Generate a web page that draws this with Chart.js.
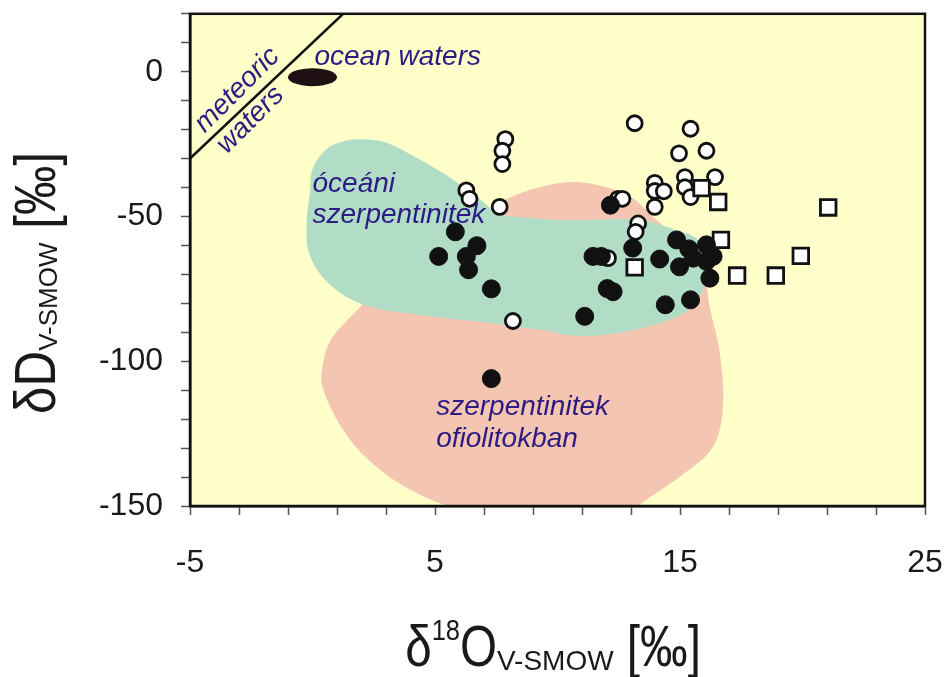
<!DOCTYPE html>
<html><head><meta charset="utf-8">
<script src="https://cdn.jsdelivr.net/npm/chart.js@4.4.1/dist/chart.umd.min.js"></script>
<style>html,body{margin:0;padding:0;background:#fff}#wrap{width:944px;height:677px;position:relative}</style>
</head><body><div id="wrap"><canvas id="c"></canvas></div>
<script>
// ---- axis ticks ----
const xTickValues = [-5,-3,-1,1,3,5,7,9,11,13,15,17,19,21,23,25];
const xTickLabels = [-5,5,15,25];
const yTickValues = [-150,-140,-130,-120,-110,-100,-90,-80,-70,-60,-50,-40,-30,-20,-10,0,10,20];
const yTickLabels = [0,-50,-100,-150];

// ---- data (δ18O, δD) ----
const filledCircles = [[12.16,-46.1],[5.83,-55.3],[6.71,-60.1],[5.15,-63.8],[6.28,-63.8],[6.37,-68.4],[7.3,-75.0],
  [11.11,-84.5],[11.45,-63.8],[11.79,-63.8],[13.07,-60.9],[14.17,-64.7],[12.03,-74.9],[12.27,-76.0],[14.4,-80.5],
  [15.43,-78.8],[14.86,-58.1],[15.36,-61.2],[14.98,-67.4],[15.54,-64.4],[16.08,-59.8],[16.35,-63.8],[16.08,-65.5],
  [16.22,-71.3],[7.3,-106]];
const openCircles = [[13.15,-17.8],[15.43,-19.7],[14.96,-28.2],[16.08,-27.3],[15.2,-36.4],[16.43,-36.4],[13.97,-38.4],
  [13.97,-41.2],[14.34,-41.3],[13.97,-46.7],[15.2,-39.9],[15.43,-43.3],[7.87,-23.3],[7.75,-27.3],[7.75,-31.9],
  [6.28,-41.0],[6.41,-43.9],[7.64,-46.7],[12.47,-43.9],[12.65,-43.9],[13.29,-52.4],[13.19,-55.3],[12.06,-64.4],[8.18,-86.1]];
const openSquares = [[15.88,-40.2],[16.56,-45.0],[21.05,-46.9],[16.67,-58.1],[13.15,-67.6],[17.33,-70.4],[18.91,-70.4],[19.93,-63.6]];
const meteoricLine = [[-5,-30],[1.25,20]];
const oceanWaters = {x:0.0, y:-1.9, dx:1.0, dy:3.1};
const oceanicSerpOutline = [[16.1,-71.4],[15.93,-75.8],[15.28,-82.7],[14.05,-87.1],[12.26,-90.5],[10.62,-91.2],[9.56,-89.5],
  [7.52,-87.1],[4.08,-83.7],[2.04,-80.3],[0.69,-73.4],[-0.12,-63.2],[-0.24,-51.8],[-0.1,-41.6],[0.0,-33.7],[0.57,-26.8],
  [1.39,-23.8],[2.2,-23.4],[3.02,-24.5],[4.08,-28.9],[5.47,-35.8],[6.82,-44.0],[7.64,-49.1],[9.27,-50.8],[10.62,-51.2],
  [13.36,-51.2],[14.71,-54.3],[15.69,-57.7],[16.01,-63.8],[16.1,-71.4]];
const ophioliteSerpOutline = [[3.55,-62.1],[6.82,-50.1],[7.93,-44.0],[9.27,-39.9],[10.9,-38.2],[12.83,-42.6],[14.05,-51.2],
  [15.82,-65.5],[16.22,-81.6],[16.63,-97.4],[16.75,-115.9],[16.34,-129.6],[14.99,-139.9],[13.36,-149.5],[12.3,-158],
  [6.2,-158],[5.5,-150.5],[4.6,-147.0],[2.9,-138.5],[1.45,-126.2],[0.41,-109],[0.45,-99.8],[0.75,-92.5],[1.39,-86.1],
  [2.04,-80.3],[3.55,-62.1]];
const annotations = [
  {text:'meteoric', x:-2.85, y:-8.2, rot:-45, size:28},
  {text:'waters', x:-2.31, y:-18.6, rot:-45, size:28},
  {text:'ocean waters', x:0.08, y:2.4, rot:0, size:28, left:true},
  {text:'óceáni', x:0.0, y:-41.6, rot:0, size:28, left:true},
  {text:'szerpentinitek', x:0.0, y:-52.4, rot:0, size:28, left:true},
  {text:'szerpentinitek', x:5.05, y:-118.6, rot:0, size:28, left:true},
  {text:'ofiolitokban', x:5.05, y:-129.5, rot:0, size:28, left:true}
];

const FONT = "'Liberation Sans', Arial, sans-serif";
const toXY = a => a.map(p => ({x:p[0], y:p[1]}));

const backgroundPlugin = {
  id:'bg',
  beforeDraw(chart){
    const {ctx, chartArea:a} = chart;
    ctx.save();
    ctx.fillStyle = '#ffffff';
    ctx.fillRect(0,0,chart.width,chart.height);
    ctx.fillStyle = '#ffffc9';
    ctx.fillRect(a.left,a.top,a.right-a.left,a.bottom-a.top);
    ctx.restore();
  }
};

const decorPlugin = {
  id:'decor',
  afterDatasetsDraw(chart){
    const {ctx, chartArea:a, scales:{x, y}} = chart;
    ctx.save();
    const cx = x.getPixelForValue(oceanWaters.x), cy = y.getPixelForValue(oceanWaters.y);
    const rx = Math.abs(x.getPixelForValue(oceanWaters.x + oceanWaters.dx) - cx);
    const ry = Math.abs(y.getPixelForValue(oceanWaters.y + oceanWaters.dy) - cy);
    ctx.fillStyle = '#1f1113';
    ctx.beginPath(); ctx.ellipse(cx, cy, rx, ry, 0, 0, Math.PI*2); ctx.fill();
    ctx.fillStyle = '#2d1b84';
    annotations.forEach(an => {
      ctx.save();
      ctx.translate(x.getPixelForValue(an.x), y.getPixelForValue(an.y));
      ctx.rotate(an.rot*Math.PI/180);
      ctx.font = 'italic ' + an.size + 'px ' + FONT;
      ctx.textAlign = an.left ? 'left' : 'center';
      ctx.textBaseline = 'alphabetic';
      ctx.fillText(an.text, 0, 0);
      ctx.restore();
    });
    ctx.strokeStyle = '#111';
    ctx.lineWidth = 2.5;
    ctx.strokeRect(a.left, a.top, a.right-a.left, a.bottom-a.top);
    ctx.restore();
  },
  afterDraw(chart){
    const ctx = chart.ctx;
    function runs(list, cx, cy){
      let total = 0;
      list.forEach(r => { ctx.font = r.s + 'px ' + FONT; r.w = ctx.measureText(r.t).width * r.k; total += r.w; });
      let px = cx - total/2;
      list.forEach(r => {
        ctx.save();
        ctx.font = r.s + 'px ' + FONT;
        ctx.translate(px, cy + (r.dy||0));
        ctx.scale(r.k, 1);
        ctx.fillText(r.t, 0, 0);
        ctx.restore();
        px += r.w;
      });
    }
    ctx.save();
    ctx.fillStyle = '#1a1a1a';
    ctx.textBaseline = 'alphabetic';
    ctx.textAlign = 'left';
    runs([{t:'δ',s:58,k:0.82},{t:'18',s:30,k:0.85,dy:-26},{t:'O',s:58,k:0.82},{t:'V-SMOW',s:28,k:1.0,dy:4},{t:' [‰]',s:58,k:0.82}], 553, 666);
    ctx.save();
    ctx.translate(55, 283);
    ctx.rotate(-Math.PI/2);
    runs([{t:'δD',s:58,k:0.85},{t:'V-SMOW',s:26,k:1.0,dy:2},{t:' [‰]',s:58,k:0.85}], 0, 0);
    ctx.restore();
    ctx.restore();
  }
};

new Chart(document.getElementById('c'), {
  type:'scatter',
  data:{datasets:[
    {label:'filled', data:toXY(filledCircles), pointRadius:9, pointBackgroundColor:'#111', pointBorderColor:'#111', pointBorderWidth:1},
    {label:'squares', data:toXY(openSquares), pointStyle:'rect', pointRadius:11, pointBackgroundColor:'#fff', pointBorderColor:'#111', pointBorderWidth:2.8},
    {label:'open', data:toXY(openCircles), pointRadius:7.5, pointBackgroundColor:'#fff', pointBorderColor:'#111', pointBorderWidth:2.8},
    {label:'meteoric', data:toXY(meteoricLine), showLine:true, borderColor:'#111', borderWidth:2.5, pointRadius:0, tension:0},
    {label:'oceanic', data:toXY(oceanicSerpOutline), showLine:true, fill:'shape', backgroundColor:'#b1dcc6', borderWidth:0, borderColor:'rgba(0,0,0,0)', pointRadius:0, tension:0.35, clip:0},
    {label:'ophiolite', data:toXY(ophioliteSerpOutline), showLine:true, fill:'shape', backgroundColor:'#f4c5b1', borderWidth:0, borderColor:'rgba(0,0,0,0)', pointRadius:0, tension:0.35, clip:0}
  ]},
  options:{
    responsive:true, maintainAspectRatio:false, animation:false, events:[],
    layout:{padding:{top:11, right:19, left:0, bottom:0}},
    plugins:{legend:{display:false}, tooltip:{enabled:false}},
    scales:{
      x:{type:'linear', min:-5, max:25,
        afterBuildTicks: s => { s.ticks = xTickValues.map(v => ({value:v})); },
        afterFit: s => { s.height = 171; s.paddingLeft = 0; s.paddingRight = 0; s.paddingTop = 0; s.paddingBottom = 0; },
        ticks:{autoSkip:false, maxRotation:0, padding:29, color:'#1a1a1a', font:{family:FONT, size:32},
          callback: v => xTickLabels.includes(v) ? String(v) : ''},
        grid:{drawOnChartArea:false, drawTicks:true, tickLength:9, tickColor:'#555', tickWidth:1.5},
        border:{display:true, color:'#111', width:2.5}
      },
      y:{type:'linear', min:-150, max:20,
        afterBuildTicks: s => { s.ticks = yTickValues.map(v => ({value:v})); },
        afterFit: s => { s.width = 190; s.paddingLeft = 0; s.paddingRight = 0; s.paddingTop = 0; s.paddingBottom = 0; },
        ticks:{autoSkip:false, padding:18, color:'#1a1a1a', font:{family:FONT, size:32},
          callback: v => yTickLabels.includes(v) ? String(v) : ''},
        grid:{drawOnChartArea:false, drawTicks:true, tickLength:9, tickColor:'#555', tickWidth:1.5},
        border:{display:true, color:'#111', width:2.5}
      }
    }
  },
  plugins:[backgroundPlugin, decorPlugin]
});
</script></body></html>
